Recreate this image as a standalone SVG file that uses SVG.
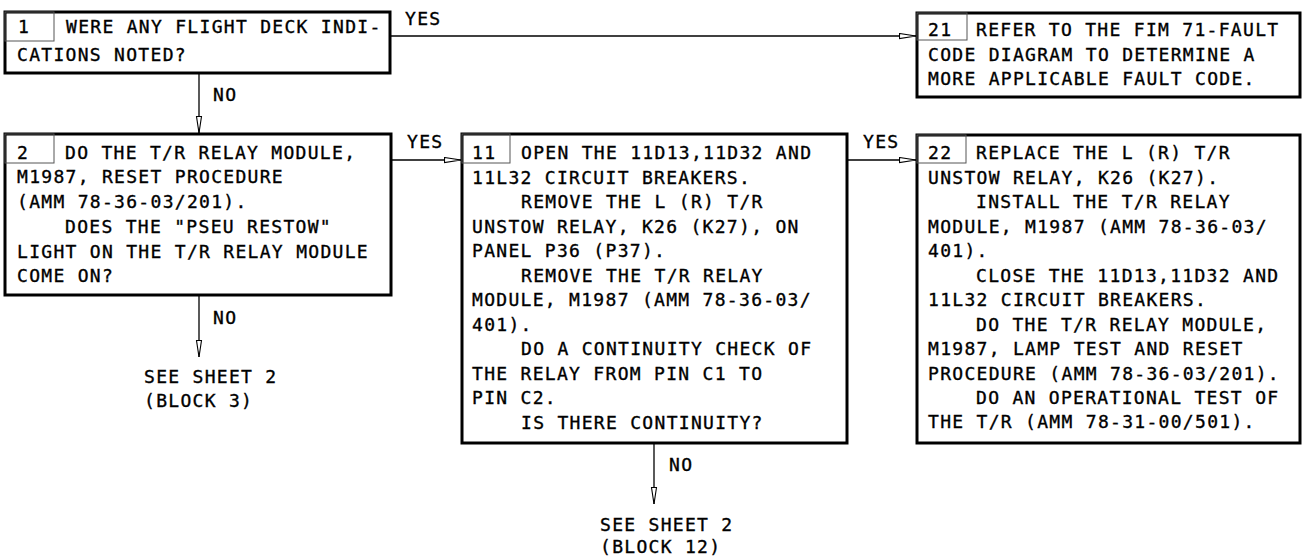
<svg xmlns="http://www.w3.org/2000/svg" width="1304" height="557" viewBox="0 0 1304 557">
<style>
text{font-family:"DejaVu Sans Mono","Liberation Mono",monospace;font-size:18px;letter-spacing:1.3px;fill:#000;stroke:#000;stroke-width:0.35px}
.box{fill:#fff;stroke:#000;stroke-width:3}
.num{fill:none;stroke:#555;stroke-width:1}
.ln{fill:none;stroke:#000;stroke-width:1.3}
</style>
<defs>
<marker id="ah" markerUnits="userSpaceOnUse" markerWidth="20" markerHeight="8" refX="17" refY="3.5" orient="auto">
<path d="M0.5,1 L17,3.5 L0.5,6 Z" fill="#fff" stroke="#000" stroke-width="1.1"/>
</marker>
</defs>
<rect width="1304" height="557" fill="#fff"/>
<g id="connectors">
<line class="ln" x1="391" y1="36" x2="916" y2="36" marker-end="url(#ah)"/>
<text x="405" y="25">YES</text>
<line class="ln" x1="199" y1="73" x2="199" y2="133" marker-end="url(#ah)"/>
<text x="213" y="101">NO</text>
<line class="ln" x1="391" y1="160" x2="461" y2="160" marker-end="url(#ah)"/>
<text x="407" y="148">YES</text>
<line class="ln" x1="847" y1="160" x2="916" y2="160" marker-end="url(#ah)"/>
<text x="863" y="148">YES</text>
<line class="ln" x1="199" y1="295" x2="199" y2="357" marker-end="url(#ah)"/>
<text x="213" y="324">NO</text>
<line class="ln" x1="654" y1="443" x2="654" y2="504" marker-end="url(#ah)"/>
<text x="669" y="471">NO</text>
</g>
<g id="node1">
<rect class="box" x="5" y="12" width="385" height="61"/>
<rect class="num" x="5" y="12" width="49" height="29"/>
<text x="18" y="33">1</text>
<text x="66" y="33">WERE ANY FLIGHT DECK INDI-</text>
<text x="17" y="61">CATIONS NOTED?</text>
</g>
<g id="node21">
<rect class="box" x="917" y="13" width="383" height="84"/>
<rect class="num" x="917" y="13" width="50" height="27"/>
<text x="928" y="36">21</text>
<text x="976" y="36">REFER TO THE FIM 71-FAULT</text>
<text x="928" y="61">CODE DIAGRAM TO DETERMINE A</text>
<text x="928" y="85">MORE APPLICABLE FAULT CODE.</text>
</g>
<g id="node2">
<rect class="box" x="5" y="134" width="386" height="161"/>
<rect class="num" x="5" y="134" width="49" height="29"/>
<text x="17" y="159">2</text>
<text x="65" y="159">DO THE T/R RELAY MODULE,</text>
<text x="17" y="183">M1987, RESET PROCEDURE</text>
<text x="17" y="208">(AMM 78-36-03/201).</text>
<text x="65" y="233">DOES THE "PSEU RESTOW"</text>
<text x="17" y="258">LIGHT ON THE T/R RELAY MODULE</text>
<text x="17" y="282">COME ON?</text>
</g>
<g id="sheet2a">
<text x="144" y="383">SEE SHEET 2</text>
<text x="144" y="407">(BLOCK 3)</text>
</g>
<g id="node11">
<rect class="box" x="462" y="134" width="385" height="309"/>
<rect class="num" x="462" y="134" width="48" height="29"/>
<text x="472" y="159">11</text>
<text x="521" y="159">OPEN THE 11D13,11D32 AND</text>
<text x="472" y="184">11L32 CIRCUIT BREAKERS.</text>
<text x="521" y="208">REMOVE THE L (R) T/R</text>
<text x="472" y="233">UNSTOW RELAY, K26 (K27), ON</text>
<text x="472" y="257">PANEL P36 (P37).</text>
<text x="521" y="282">REMOVE THE T/R RELAY</text>
<text x="472" y="306">MODULE, M1987 (AMM 78-36-03/</text>
<text x="472" y="331">401).</text>
<text x="521" y="355">DO A CONTINUITY CHECK OF</text>
<text x="472" y="380">THE RELAY FROM PIN C1 TO</text>
<text x="472" y="404">PIN C2.</text>
<text x="521" y="429">IS THERE CONTINUITY?</text>
</g>
<g id="sheet2b">
<text x="600" y="531">SEE SHEET 2</text>
<text x="600" y="553">(BLOCK 12)</text>
</g>
<g id="node22">
<rect class="box" x="917" y="135" width="383" height="308"/>
<rect class="num" x="917" y="135" width="49" height="28"/>
<text x="928" y="159">22</text>
<text x="976" y="159">REPLACE THE L (R) T/R</text>
<text x="928" y="184">UNSTOW RELAY, K26 (K27).</text>
<text x="976" y="208">INSTALL THE T/R RELAY</text>
<text x="928" y="233">MODULE, M1987 (AMM 78-36-03/</text>
<text x="928" y="257">401).</text>
<text x="976" y="282">CLOSE THE 11D13,11D32 AND</text>
<text x="928" y="306">11L32 CIRCUIT BREAKERS.</text>
<text x="976" y="331">DO THE T/R RELAY MODULE,</text>
<text x="928" y="355">M1987, LAMP TEST AND RESET</text>
<text x="928" y="380">PROCEDURE (AMM 78-36-03/201).</text>
<text x="976" y="404">DO AN OPERATIONAL TEST OF</text>
<text x="928" y="428">THE T/R (AMM 78-31-00/501).</text>
</g>
</svg>
